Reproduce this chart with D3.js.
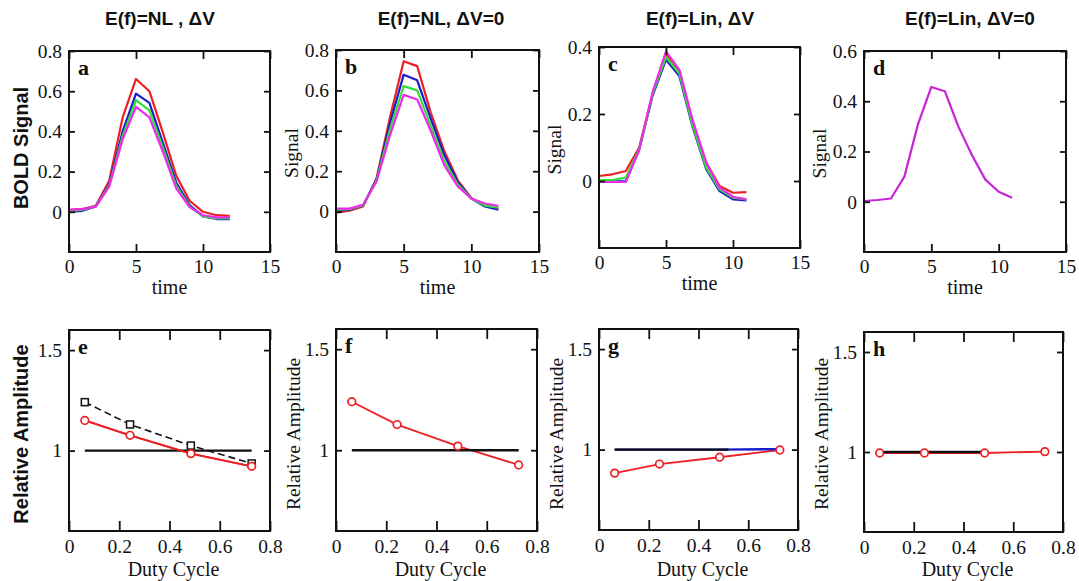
<!DOCTYPE html>
<html>
<head>
<meta charset="utf-8">
<script src="https://cdn.jsdelivr.net/npm/d3@7"></script>
<style>
  body { margin: 0; background: #fff; }
  svg { display: block; }
</style>
</head>
<body>
<div id="viz-container"></div>
<script>
// ---- data ----
let timeLong = [0, 1, 2, 3, 4, 5, 6, 7, 8, 9, 10, 11, 12];
let timeShort = [0, 1, 2, 3, 4, 5, 6, 7, 8, 9, 10, 11];
let dutyCycle = [0.063, 0.243, 0.485, 0.727];

let aRed = [0.01, 0.013, 0.03, 0.154, 0.468, 0.661, 0.6, 0.395, 0.18, 0.055, 0.0, -0.017, -0.02];
let aBlue = [0.0, 0.005, 0.027, 0.137, 0.40, 0.588, 0.542, 0.344, 0.146, 0.033, -0.023, -0.036, -0.036];
let aGreen = [0.005, 0.01, 0.027, 0.13, 0.377, 0.555, 0.504, 0.32, 0.13, 0.026, -0.023, -0.033, -0.033];
let aMagenta = [0.01, 0.013, 0.026, 0.125, 0.36, 0.522, 0.47, 0.30, 0.116, 0.023, -0.017, -0.028, -0.028];

let bRed = [-0.005, 0.005, 0.025, 0.165, 0.47, 0.744, 0.72, 0.49, 0.30, 0.155, 0.066, 0.03, 0.015];
let bBlue = [0.005, 0.01, 0.03, 0.16, 0.44, 0.678, 0.65, 0.46, 0.28, 0.145, 0.065, 0.025, 0.01];
let bGreen = [0.01, 0.012, 0.03, 0.155, 0.41, 0.621, 0.6, 0.425, 0.25, 0.135, 0.065, 0.03, 0.02];
let bMagenta = [0.015, 0.015, 0.033, 0.15, 0.38, 0.578, 0.555, 0.40, 0.23, 0.125, 0.065, 0.04, 0.028];

let cRed = [0.015, 0.02, 0.03, 0.10, 0.26, 0.38, 0.33, 0.175, 0.055, -0.015, -0.035, -0.033];
let cBlue = [0.0, -0.002, 0.0, 0.093, 0.255, 0.362, 0.313, 0.16, 0.035, -0.03, -0.055, -0.058];
let cGreen = [0.003, 0.003, 0.01, 0.095, 0.26, 0.37, 0.32, 0.165, 0.04, -0.025, -0.05, -0.055];
let cMagenta = [-0.003, -0.003, -0.003, 0.093, 0.265, 0.387, 0.332, 0.18, 0.055, -0.02, -0.047, -0.055];

let dSignal = [0.003, 0.007, 0.013, 0.10, 0.307, 0.457, 0.44, 0.30, 0.187, 0.089, 0.04, 0.016];

let eRed = [1.15, 1.076, 0.985, 0.922];
let eBlack = [1.241, 1.13, 1.025, 0.936];
let fRed = [1.24, 1.127, 1.02, 0.927];
let gRed = [0.883, 0.928, 0.962, 0.998];
let gBlue = [1.0, 1.0, 1.0, 1.002];
let hRed = [0.995, 0.995, 0.995, 1.002];
let refEnd = [0.727, 0.727, 0.52, 0.485];   // where the black y=1 line stops, panels e-h

let titles = ["E(f)=NL , \u0394V", "E(f)=NL, \u0394V=0", "E(f)=Lin, \u0394V", "E(f)=Lin, \u0394V=0"];
let panelLetters = ["a", "b", "c", "d", "e", "f", "g", "h"];
let timeTicks = [0, 5, 10, 15];
let dutyTicks = [0, 0.2, 0.4, 0.6, 0.8];
let ampTicks = [1, 1.5];

let red = "#ec2024", blue = "#1c1ccc", green = "#33dd33", magenta = "#ee2aee", purple = "#c624d6";

// ---- canvas ----
let viz = d3.select("#viz-container")
    .append("svg")
    .attr("width", 1079)
    .attr("height", 581)
    .style("background-color", "white");

let serif = "'Liberation Serif', 'Times New Roman', serif";
let sans = "'Liberation Sans', Arial, sans-serif";

// frames of the eight panels: left, top, right, bottom
let topPanels = [
    {x0: 69, y0: 51, x1: 270, y1: 252, yDom: [-0.2, 0.8], yTicks: [0, 0.2, 0.4, 0.6, 0.8], yLab: "BOLD Signal",
     t: timeLong, series: [[aRed, red], [aBlue, blue], [aGreen, green], [aMagenta, magenta]], title: 160},
    {x0: 336, y0: 50, x1: 539, y1: 252, yDom: [-0.2, 0.8], yTicks: [0, 0.2, 0.4, 0.6, 0.8], yLab: "Signal",
     t: timeLong, series: [[bRed, red], [bBlue, blue], [bGreen, green], [bMagenta, magenta]], title: 441},
    {x0: 599, y0: 47, x1: 800, y1: 248, yDom: [-0.2, 0.4], yTicks: [0, 0.2, 0.4], yLab: "Signal",
     t: timeShort, series: [[cRed, red], [cBlue, blue], [cGreen, green], [cMagenta, magenta]], title: 700},
    {x0: 864, y0: 51, x1: 1066, y1: 252, yDom: [-0.2, 0.6], yTicks: [0, 0.2, 0.4, 0.6], yLab: "Signal",
     t: timeShort, series: [[dSignal, purple]], title: 970}
];

let bottomPanels = [
    {x0: 69, y0: 330, x1: 270, y1: 531, yLab: "Relative Amplitude"},
    {x0: 336, y0: 329, x1: 537, y1: 531, yLab: "Relative Amplitude"},
    {x0: 599, y0: 329, x1: 798, y1: 530, yLab: "Relative Amplitude"},
    {x0: 864, y0: 332, x1: 1063, y1: 532, yLab: "Relative Amplitude"}
];

function fmt(d) {
    return d === 0 ? "0" : String(d);
}

// frame + inward ticks on all four sides
function drawFrame(g, p, x, y, xTicks, yTicks, xTickLen, bottomPad) {
    g.append("g")
        .attr("transform", "translate(0," + p.y1 + ")")
        .call(d3.axisBottom(x).tickValues(xTicks).tickSize(-xTickLen).tickPadding(bottomPad).tickFormat(fmt));
    g.append("g")
        .attr("transform", "translate(0," + p.y0 + ")")
        .call(d3.axisTop(x).tickValues(xTicks).tickSize(-xTickLen).tickFormat(""));
    g.append("g")
        .attr("transform", "translate(" + p.x0 + ",0)")
        .call(d3.axisLeft(y).tickValues(yTicks).tickSize(-6).tickPadding(7).tickFormat(fmt));
    g.append("g")
        .attr("transform", "translate(" + p.x1 + ",0)")
        .call(d3.axisRight(y).tickValues(yTicks).tickSize(-6).tickFormat(""));

    g.selectAll(".domain").remove();
    g.selectAll(".tick line").attr("stroke", "#111").attr("stroke-width", 1.8);
    g.selectAll(".tick text")
        .attr("fill", "#111")
        .style("font-family", serif)
        .style("font-size", "19.5px");

    g.append("rect")
        .attr("x", p.x0)
        .attr("y", p.y0)
        .attr("width", p.x1 - p.x0)
        .attr("height", p.y1 - p.y0)
        .attr("fill", "none")
        .attr("stroke", "#111")
        .attr("stroke-width", 2);
}

function yLabel(g, text, x, y, bold) {
    g.append("text")
        .text(text)
        .attr("transform", "translate(" + x + "," + y + ") rotate(-90)")
        .attr("text-anchor", "middle")
        .attr("fill", "#111")
        .style("font-family", bold ? sans : serif)
        .style("font-weight", bold ? "bold" : "normal")
        .style("font-size", bold ? "20px" : "19.5px");
}

function letter(g, p, i) {
    g.append("text")
        .text(panelLetters[i])
        .attr("x", p.x0 + 9)
        .attr("y", p.y0 + 24)
        .attr("fill", "#111")
        .style("font-family", serif)
        .style("font-weight", "bold")
        .style("font-size", "22px");
}

// ---- top row: BOLD signal over time ----
topPanels.forEach(function (p, i) {
    let g = viz.append("g");
    let x = d3.scaleLinear().domain([0, 15]).range([p.x0, p.x1]);
    let y = d3.scaleLinear().domain(p.yDom).range([p.y1, p.y0]);

    p.series.forEach(function (s) {
        let line = d3.line()
            .x(function (d, j) { return x(p.t[j]); })
            .y(function (d) { return y(d); });
        g.append("path")
            .datum(s[0])
            .attr("d", line)
            .attr("fill", "none")
            .attr("stroke", s[1])
            .attr("stroke-width", 2.2)
            .attr("stroke-linejoin", "round");
    });

    drawFrame(g, p, x, y, timeTicks, p.yTicks, 8, 7);
    letter(g, p, i);

    g.append("text")
        .text("time")
        .attr("x", (p.x0 + p.x1) / 2)
        .attr("y", p.y1 + 42)
        .attr("text-anchor", "middle")
        .attr("fill", "#111")
        .style("font-family", serif)
        .style("font-size", "20px");

    if (i === 0) {
        yLabel(g, p.yLab, 28, 148, true);
    } else {
        yLabel(g, p.yLab, p.x0 - 38, (p.y0 + p.y1) / 2 + 2, false);
    }

    g.append("text")
        .text(titles[i])
        .attr("x", p.title)
        .attr("y", 25)
        .attr("text-anchor", "middle")
        .attr("fill", "#111")
        .style("font-family", sans)
        .style("font-weight", "bold")
        .style("font-size", "19px");
});

// ---- bottom row: relative amplitude vs duty cycle ----
let redSets = [eRed, fRed, gRed, hRed];

bottomPanels.forEach(function (p, i) {
    let g = viz.append("g");
    let x = d3.scaleLinear().domain([0, 0.8]).range([p.x0, p.x1]);
    let y = d3.scaleLinear().domain([0.6, 1.6]).range([p.y1, p.y0]);
    let line = d3.line()
        .x(function (d, j) { return x(dutyCycle[j]); })
        .y(function (d) { return y(d); });

    // red model curve under the reference line
    g.append("path")
        .datum(redSets[i])
        .attr("d", line)
        .attr("fill", "none")
        .attr("stroke", red)
        .attr("stroke-width", 1.8);

    if (i === 2) {
        g.append("path")
            .datum(gBlue)
            .attr("d", line)
            .attr("fill", "none")
            .attr("stroke", blue)
            .attr("stroke-width", 2.4);
    }

    // reference at 1
    g.append("line")
        .attr("x1", x(dutyCycle[0]))
        .attr("x2", x(refEnd[i]))
        .attr("y1", y(1))
        .attr("y2", y(1))
        .attr("stroke", "#111")
        .attr("stroke-width", 2.4);

    if (i === 0) {
        g.append("path")
            .datum(eBlack)
            .attr("d", line)
            .attr("fill", "none")
            .attr("stroke", "#111")
            .attr("stroke-width", 1.6)
            .attr("stroke-dasharray", "7,4");
        g.selectAll(".sq").data(eBlack).enter().append("rect")
            .attr("class", "sq")
            .attr("x", function (d, j) { return x(dutyCycle[j]) - 3.5; })
            .attr("y", function (d) { return y(d) - 3.5; })
            .attr("width", 7)
            .attr("height", 7)
            .attr("fill", "white")
            .attr("stroke", "#111")
            .attr("stroke-width", 1.5);
        // red line on top of the dashed one
        g.append("path")
            .datum(eRed)
            .attr("d", line)
            .attr("fill", "none")
            .attr("stroke", red)
            .attr("stroke-width", 1.8);
    }

    g.selectAll(".circ").data(redSets[i]).enter().append("circle")
        .attr("class", "circ")
        .attr("cx", function (d, j) { return x(dutyCycle[j]); })
        .attr("cy", function (d) { return y(d); })
        .attr("r", 3.8)
        .attr("fill", "white")
        .attr("stroke", red)
        .attr("stroke-width", 1.7);

    drawFrame(g, p, x, y, dutyTicks, ampTicks, 10, 8);
    letter(g, p, i + 4);

    g.append("text")
        .text("Duty Cycle")
        .attr("x", (p.x0 + p.x1) / 2 + 4)
        .attr("y", 576)
        .attr("text-anchor", "middle")
        .attr("fill", "#111")
        .style("font-family", serif)
        .style("font-size", "20px");

    if (i === 0) {
        yLabel(g, p.yLab, 28, 434, true);
    } else {
        yLabel(g, p.yLab, p.x0 - 36, 434, false);
    }
});
</script>
</body>
</html>
